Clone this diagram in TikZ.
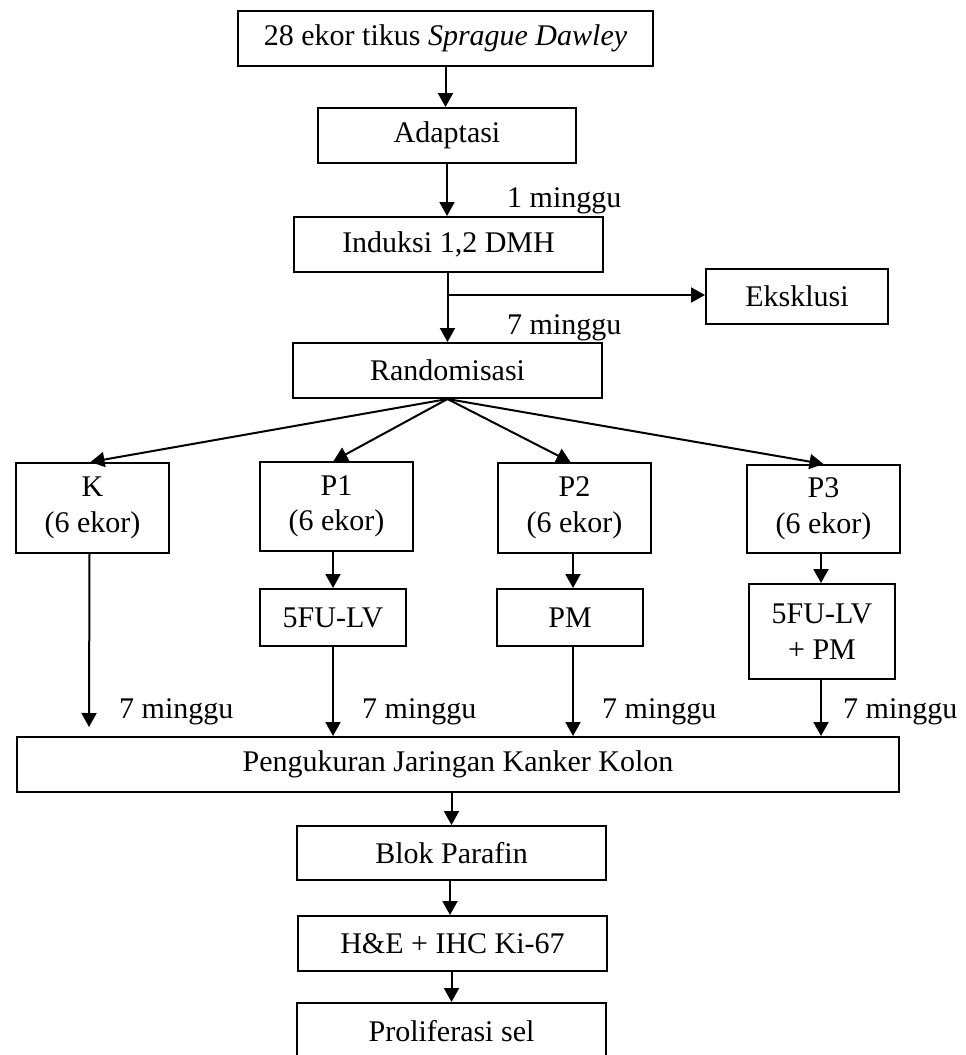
\documentclass[tikz,border=0pt]{standalone}
\usepackage{fontspec}
\setmainfont{Liberation Serif}
\usetikzlibrary{arrows.meta,calc}
\begin{document}
\begin{tikzpicture}[x=1pt,y=-1pt,
  every node/.style={font=\fontsize{30}{35.5}\selectfont},
  box/.style={draw,line width=2pt,inner sep=0pt,align=center},
  arr/.style={line width=2pt,-{Triangle[length=14pt,width=15pt]}},
  lbl/.style={anchor=base west,inner sep=0pt}]
\useasboundingbox (0,0) rectangle (966,1055);
% boxes
\node[box,minimum width=415,minimum height=55] (top) at (445.5,38.5) {28 ekor tikus \textit{Sprague Dawley}};
\node[box,minimum width=258,minimum height=55] (adapt) at (447,135.5) {Adaptasi};
\node[box,minimum width=309,minimum height=55] (ind) at (448.5,244.5) {Induksi 1,2 DMH};
\node[box,minimum width=182,minimum height=55] (eks) at (797,296.5) {Eksklusi};
\node[box,minimum width=309,minimum height=55] (rand) at (447.5,370.5) {Randomisasi};
\node[box,minimum width=153,minimum height=90] (K) at (92.5,508) {K\\(6 ekor)};
\node[box,minimum width=153,minimum height=89] (P1) at (336.5,506.5) {P1\\(6 ekor)};
\node[box,minimum width=153,minimum height=90] (P2) at (574.5,508) {P2\\(6 ekor)};
\node[box,minimum width=153,minimum height=88] (P3) at (823.5,509) {P3\\(6 ekor)};
\node[box,minimum width=146,minimum height=57] (fu1) at (333,617.5) {5FU-LV};
\node[box,minimum width=146,minimum height=57] (pm) at (570,617.5) {PM};
\node[box,minimum width=146,minimum height=95] (fu2) at (822,631.5) {5FU-LV\\+ PM};
\node[box,minimum width=882,minimum height=55] (peng) at (458,764.5) {Pengukuran Jaringan Kanker Kolon};
\node[box,minimum width=309,minimum height=54] (blok) at (451.5,853) {Blok Parafin};
\node[box,minimum width=309,minimum height=55] (he) at (452.5,943.5) {H\&E + IHC Ki-67};
\node[box,minimum width=309,minimum height=56] (prol) at (451.5,1031) {Proliferasi sel};
% labels
\node[lbl] (l1) at (507,207) {1 minggu};
\node[lbl] (l2) at (507,334) {7 minggu};
\node[lbl] (l3) at (119,718) {7 minggu};
\node[lbl] (l4) at (362,718) {7 minggu};
\node[lbl] (l5) at (602,718) {7 minggu};
\node[lbl] (l6) at (843,718) {7 minggu};
% connectors
\coordinate (br) at (447,295);
\coordinate (kend) at (89,727);
\draw[arr] (top.south) -- (top.south |- adapt.north);
\draw[arr] (adapt.south) -- (adapt.south |- ind.north);
\draw[arr] (rand.north |- ind.south) -- (rand.north);
\draw[arr] (br) -- (br -| eks.west);
\draw[arr] (rand.south) -- ([xshift=-2pt]K.north);
\draw[arr] (rand.south) -- ([xshift=-3pt]P1.north);
\draw[arr] (rand.south) -- ([xshift=-4pt]P2.north);
\draw[arr] (rand.south) -- (P3.north);
\draw[arr] ([xshift=-3pt]K.south) -- (kend);
\draw[arr] (fu1.north |- P1.south) -- (fu1.north);
\draw[arr] ([xshift=3pt]pm.north |- P2.south) -- ([xshift=3pt]pm.north);
\draw[arr] ([xshift=-1pt]fu2.north |- P3.south) -- ([xshift=-1pt]fu2.north);
\draw[arr] (fu1.south) -- (fu1.south |- peng.north);
\draw[arr] ([xshift=3pt]pm.south) -- ([xshift=3pt]pm.south |- peng.north);
\draw[arr] ([xshift=-1pt]fu2.south) -- ([xshift=-1pt]fu2.south |- peng.north);
\draw[arr] (blok.north |- peng.south) -- (blok.north);
\draw[arr] ([xshift=-1.5pt]blok.south) -- ([xshift=-1.5pt]blok.south |- he.north);
\draw[arr] (prol.north |- he.south) -- (prol.north);
\end{tikzpicture}
\end{document}
